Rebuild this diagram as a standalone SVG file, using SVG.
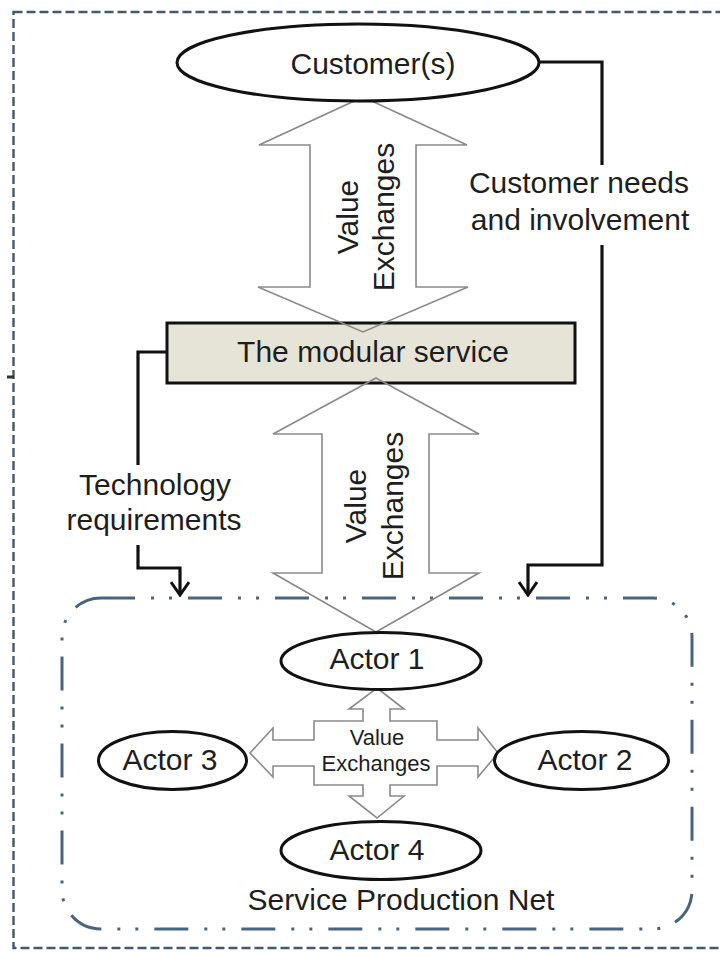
<svg xmlns="http://www.w3.org/2000/svg" width="720" height="953" viewBox="0 0 720 953">
<defs>
<style>
.t{font-family:"Liberation Sans",Arial,sans-serif;font-size:30px;fill:#1e1e1e;text-anchor:middle}
.ts{font-size:22px}
.node{fill:#fff;stroke:#111;stroke-width:3}
.box{fill:#e6e4d7;stroke:#111;stroke-width:3}
.conn{fill:none;stroke:#111;stroke-width:3.2}
.big{fill:none;stroke:#8a8a8a;stroke-width:1.6;stroke-linejoin:miter}
.cross{fill:#fff;stroke:#8a8a8a;stroke-width:1.6}
.outer{fill:none;stroke:#43596f;stroke-width:2.4;stroke-dasharray:9 4}
.net{fill:none;stroke:#4a6480;stroke-width:3;stroke-dasharray:34 16 3 15 3 16}
</style>
<marker id="chev" viewBox="0 0 16 20" refX="14" refY="10" markerWidth="16" markerHeight="20" markerUnits="userSpaceOnUse" orient="auto">
<path d="M1,1 L14,10 L1,19" fill="none" stroke="#111" stroke-width="3"/>
</marker>
</defs>
<rect width="720" height="953" fill="#fff"/>
<rect class="outer" x="13.5" y="12" width="710" height="936"/>
<line x1="7" y1="377" x2="14" y2="377" stroke="#333" stroke-width="3"/>
<g id="service-production-net">
<rect class="net" x="62" y="598" width="630" height="331" rx="39" ry="39"/>
<text class="t" x="401" y="910">Service Production Net</text>
</g>
<g id="modular-service">
<rect class="box" x="167" y="323" width="408" height="60"/>
<text class="t" x="373" y="362">The modular service</text>
</g>
<g id="connectors">
<path class="big" d="M363,97 L467,145 L416,145 L416,287 L468,287 L363,332 L258,287 L310,287 L310,145 L259,145 Z"/>
<text class="t" transform="translate(358,217) rotate(-90)">Value</text>
<text class="t" transform="translate(394,217) rotate(-90)">Exchanges</text>
<path class="big" d="M376,378 L479,434 L429,434 L429,573 L479,573 L376,632 L273,573 L322,573 L322,434 L273,434 Z"/>
<text class="t" transform="translate(366,506) rotate(-90)">Value</text>
<text class="t" transform="translate(403,506) rotate(-90)">Exchanges</text>
<path class="cross" d="M377,688 L404,709 L390,709 L390,721 L437,721 L437,740 L478,740 L478,728 L498,753 L478,777 L478,766 L437,766 L437,785 L390,785 L390,796 L404,796 L377,818 L349,796 L363,796 L363,785 L314,785 L314,766 L273,766 L273,777 L250,753 L273,728 L273,740 L314,740 L314,721 L363,721 L363,709 L349,709 Z"/>
<text class="t ts" x="377" y="745">Value</text>
<text class="t ts" x="376" y="771">Exchanges</text>
<path class="conn" d="M539,62 H602 V165"/>
<path class="conn" d="M602,245 V565 H528 V595" marker-end="url(#chev)"/>
<text class="t" x="579" y="193">Customer needs</text>
<text class="t" x="580" y="230">and involvement</text>
<path class="conn" d="M166,352 H138 V465"/>
<path class="conn" d="M138,545 V568 H180 V595" marker-end="url(#chev)"/>
<text class="t" x="155" y="495">Technology</text>
<text class="t" x="154" y="530">requirements</text>
</g>
<g id="customers">
<ellipse class="node" cx="358" cy="62.5" rx="181" ry="38.5"/>
<text class="t" x="373" y="74">Customer(s)</text>
</g>
<g id="actor1">
<ellipse class="node" cx="381" cy="661" rx="100" ry="28.5"/>
<text class="t" x="377" y="669">Actor 1</text>
</g>
<g id="actor2">
<ellipse class="node" cx="581.5" cy="760.5" rx="87" ry="29"/>
<text class="t" x="585" y="770">Actor 2</text>
</g>
<g id="actor3">
<ellipse class="node" cx="172.5" cy="760.5" rx="74" ry="29"/>
<text class="t" x="170" y="770">Actor 3</text>
</g>
<g id="actor4">
<ellipse class="node" cx="381" cy="850.5" rx="100" ry="29"/>
<text class="t" x="377" y="860">Actor 4</text>
</g>
</svg>
